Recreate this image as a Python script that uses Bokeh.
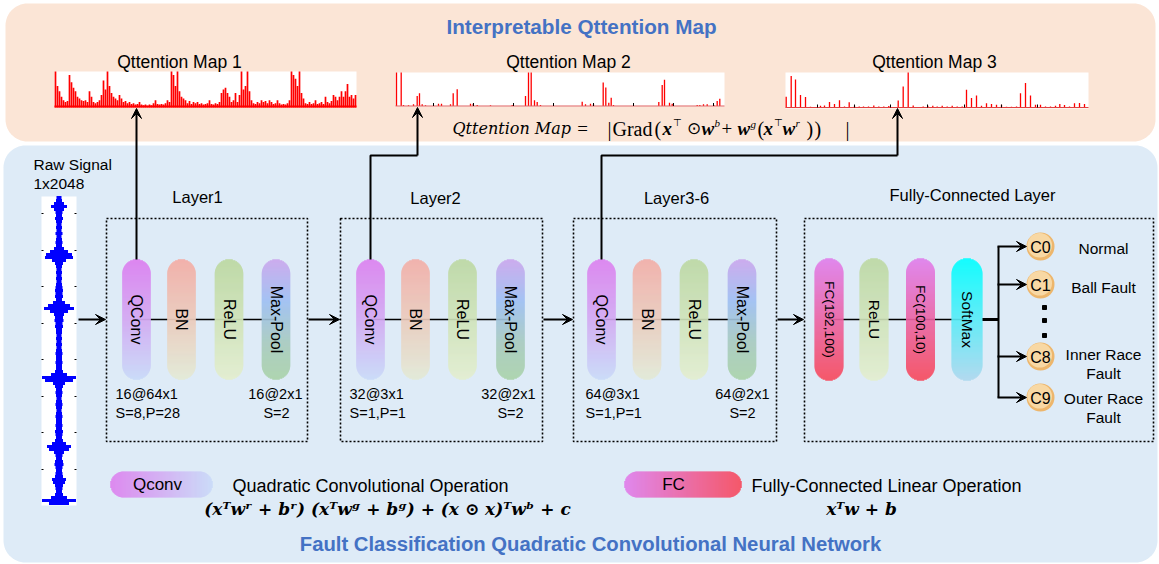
import numpy as np
from bokeh.plotting import figure
from bokeh.models import Range1d, Arrow, VeeHead
from bokeh.core.properties import value
from bokeh.embed import file_html
from bokeh.resources import INLINE

# ---------------- data ----------------
map1_values = [1.0, 0.6, 0.45, 0.3, 0.2, 0.15, 0.18, 0.9, 0.7, 0.55,
               0.45, 0.3, 0.25, 0.2, 0.18, 0.2, 0.15, 0.45, 0.3, 0.15,
               0.12, 0.15, 0.2, 0.35, 0.75, 0.5, 1.0, 0.6, 0.4, 0.3,
               0.25, 0.2, 0.35, 0.25, 0.15, 0.18, 0.12, 0.15, 0.1, 0.12,
               0.08, 0.1, 0.15, 0.08, 0.06, 0.08, 0.05, 0.08, 0.06, 0.12,
               0.2, 0.1, 0.08, 0.1, 0.08, 0.12, 0.2, 0.15, 1.0, 0.9,
               0.6, 1.0, 0.45, 0.3, 0.25, 0.2, 0.12, 0.18, 0.1, 0.15,
               0.12, 0.15, 0.1, 0.12, 0.08, 0.1, 0.12, 0.2, 0.1, 0.08,
               0.12, 0.1, 0.15, 0.4, 0.5, 0.55, 0.4, 0.3, 0.15, 0.2,
               0.4, 0.15, 0.35, 1.0, 0.5, 0.6, 1.0, 0.45, 0.2, 0.12,
               0.1, 0.15, 0.12, 0.2, 0.15, 0.18, 0.12, 0.2, 0.15, 0.1,
               0.12, 0.2, 0.12, 0.08, 0.1, 0.08, 0.12, 0.2, 1.0, 0.9,
               0.8, 0.6, 1.0, 0.4, 0.25, 0.12, 0.1, 0.15, 0.1, 0.12,
               0.2, 0.1, 0.12, 0.15, 0.1, 0.3, 0.15, 0.12, 0.18, 0.35,
               0.3, 0.2, 0.3, 0.45, 0.3, 0.45, 0.65, 0.3, 0.35, 0.25,
               0.35]

map2_pos = [1, 5.7, 8, 13, 18, 21.7, 24, 26.7, 30, 43, 46, 55, 57.7, 61.7,
            75, 77.7, 81.7, 95, 116.7, 130, 133, 135.7, 139, 141.7, 145,
            186.7, 190, 195, 198, 207.7, 210.3, 213.3, 215.7, 218,
            263.3, 266.7, 269, 274, 276.7, 301.7, 304.3, 308, 311.7, 318.3,
            321.7, 324.3]
map2_values = [1.0, 1.0, 0.03, 0.02, 0.05, 0.3, 0.38, 0.05, 0.02, 0.07, 0.07, 0.05, 0.38, 0.5,
               0.07, 0.07, 0.03, 0.02, 0.03, 0.3, 1.0, 1.0, 0.17, 0.12, 0.03,
               0.13, 0.05, 0.07, 0.05, 0.7, 0.55, 0.1, 0.25, 0.03,
               0.12, 0.63, 0.78, 0.1, 0.07, 0.03, 0.03, 0.05, 0.05, 0.03,
               0.15, 0.22]

map3_pos = [0.7, 5.7, 10, 15, 20, 25, 35, 39, 44, 49, 54, 59, 63.7, 69, 73.7, 78, 83,
            88.3, 93.3, 98.3, 103.3, 112.7, 117.7, 122.7, 127.7, 137.7, 142.3, 147.3,
            151.7, 156.7, 161.7, 166.7, 171.7, 176.7, 181, 186, 191, 196, 201, 206,
            211, 216, 221, 226, 231, 235, 240, 245, 250, 255, 260, 265, 270, 274.3,
            279, 284, 289, 294, 299]
map3_values = [0.31, 0.9, 0.8, 0.36, 0.3, 0.02, 0.05, 0.06, 0.16, 0.1, 0.21, 0.03, 0.15, 0.05, 0.03, 0.03, 0.03,
               0.06, 0.03, 0.03, 0.04, 0.2, 0.6, 1.0, 0.06, 0.03, 0.05, 0.05,
               0.03, 0.05, 0.03, 0.05, 0.03, 0.03, 0.51, 0.27, 0.34, 0.05, 0.12, 0.1,
               0.08, 0.08, 0.02, 0.02, 0.03, 0.41, 0.7, 0.34, 0.08, 0.08, 0.03, 0.03, 0.05, 0.1,
               0.07, 0.03, 0.12, 0.13, 0.1]

raw_envelope = [2.5, 3, 5, 8, 5, 3.5, 3, 4, 3, 2.5,
                3, 2.5, 3.5, 2.5, 3, 3.5, 3, 5, 9, 13,
                14, 7, 4, 3, 2.5, 3, 2.5, 3, 2.5, 3,
                3.5, 4, 3.5, 4, 3, 6, 11, 15, 9, 5,
                4, 4.5, 3.5, 4, 3, 3, 2.5, 3, 2.5, 3,
                2.5, 3, 3.5, 3, 3, 3.5, 3, 3, 4, 8,
                17, 14, 6, 4, 3, 3.5, 3, 2.5, 3, 3.5,
                3, 2.5, 3, 3.5, 3, 3, 3.5, 3, 4, 3.5,
                3, 4, 7, 12, 10, 5, 3.5, 3, 4, 4.5,
                3.5, 3, 3.5, 4, 7, 6, 4, 3.5, 3, 4,
                8, 17, 10]

map_titles = ["Qttention Map 1", "Qttention Map 2", "Qttention Map 3"]
layer_titles = ["Layer1", "Layer2", "Layer3-6", "Fully-Connected Layer"]
conv_blocks = ["QConv", "BN", "ReLU", "Max-Pool"]
fc_blocks = ["FC(192,100)", "ReLU", "FC(100,10)", "SoftMax"]
conv_kernel = ["16@64x1", "32@3x1", "64@3x1"]
conv_stride = ["S=8,P=28", "S=1,P=1", "S=1,P=1"]
pool_kernel = ["16@2x1", "32@2x1", "64@2x1"]
pool_stride = ["S=2", "S=2", "S=2"]
class_ids = ["C0", "C1", "C8", "C9"]
class_names = [["Normal"], ["Ball Fault"], ["Inner Race", "Fault"], ["Outer Race", "Fault"]]

SANS = "Liberation Sans"
SERIF = "Liberation Serif"
DSERIF = "DejaVu Serif"
BLUE_T = "#4472C4"

W, H = 1159, 564

# ---------------- figure ----------------
p = figure(width=W, height=H, x_range=Range1d(0, W), y_range=Range1d(H, 0),
           output_backend="svg", toolbar_location=None, min_border=0,
           x_axis_type=None, y_axis_type=None)
p.grid.visible = False
p.outline_line_color = None
p.background_fill_color = "white"
p.border_fill_color = "white"


def lin_range(d0, s0, d1, s1, f_start, f_end):
    k = (d1 - d0) / (s1 - s0)
    return Range1d(start=d0 + (f_start - s0) * k, end=d0 + (f_end - s0) * k)


def xr(d0, s0, d1, s1):
    return lin_range(d0, s0, d1, s1, 0, W)


def yr(d0, s0, d1, s1):
    return lin_range(d0, s0, d1, s1, H, 0)


def rrect(x0, y0, x1, y1, r, n=16):
    xs, ys = [], []
    corners = [(x0 + r, y0 + r, np.pi, 1.5 * np.pi), (x1 - r, y0 + r, 1.5 * np.pi, 2 * np.pi),
               (x1 - r, y1 - r, 0, 0.5 * np.pi), (x0 + r, y1 - r, 0.5 * np.pi, np.pi)]
    for cx, cy, a0, a1 in corners:
        t = np.linspace(a0, a1, n)
        xs.extend(cx + r * np.cos(t))
        ys.extend(cy + r * np.sin(t))
    return xs, ys


def hex2rgb(h):
    h = h.lstrip("#")
    return [int(h[i:i + 2], 16) for i in (0, 2, 4)]


def interp_color(stops, t):
    t = min(max(t, 0.0), 1.0)
    for (p0, c0), (p1, c1) in zip(stops[:-1], stops[1:]):
        if t <= p1:
            f = 0 if p1 == p0 else (t - p0) / (p1 - p0)
            a, b = hex2rgb(c0), hex2rgb(c1)
            return "#%02x%02x%02x" % tuple(int(round(a[i] + (b[i] - a[i]) * f)) for i in range(3))
    return stops[-1][1]


def vpill(cx, y0, y1, w, stops):
    r = w / 2.0
    n = int(round(y1 - y0))
    ys = y0 + np.arange(n) + 0.5
    hw = []
    for y in ys:
        if y < y0 + r:
            d = (y0 + r) - y
        elif y > y1 - r:
            d = y - (y1 - r)
        else:
            d = 0
        hw.append(np.sqrt(max(r * r - d * d, 0.0)))
    hw = np.array(hw)
    cols = [interp_color(stops, (y - y0) / (y1 - y0)) for y in ys]
    p.quad(left=cx - hw, right=cx + hw, top=ys - 0.7, bottom=ys + 0.7, fill_color=cols, line_color=None)


def hpill(x0, x1, cy, h, stops):
    r = h / 2.0
    n = int(round(x1 - x0))
    xs = x0 + np.arange(n) + 0.5
    hh = []
    for x in xs:
        if x < x0 + r:
            d = (x0 + r) - x
        elif x > x1 - r:
            d = x - (x1 - r)
        else:
            d = 0
        hh.append(np.sqrt(max(r * r - d * d, 0.0)))
    hh = np.array(hh)
    cols = [interp_color(stops, (x - x0) / (x1 - x0)) for x in xs]
    p.quad(left=xs - 0.7, right=xs + 0.7, top=cy - hh, bottom=cy + hh, fill_color=cols, line_color=None)


def txt(x, y, s, size, align="center", style="normal", color="black", font=SANS, angle=0.0):
    p.text(x=[x], y=[y], text=[s], text_font=value(font), text_font_size=f"{size}px",
           text_align=align, text_baseline="middle", text_font_style=style,
           text_color=color, angle=angle)


def arrow(x0, y0, x1, y1, lw=2):
    p.add_layout(Arrow(end=VeeHead(size=10, line_color="black", fill_color="black", line_width=1),
                       x_start=x0, y_start=y0, x_end=x1, y_end=y1,
                       line_width=lw, line_color="black"))


# ---------------- panels ----------------
xs, ys = rrect(5, 3, 1155, 141, 22)
p.patch(xs, ys, fill_color="#FBE5D6", line_color=None)
xs, ys = rrect(3, 145, 1157, 562, 22)
p.patch(xs, ys, fill_color="#DEEBF7", line_color=None)

txt(581, 26, "Interpretable Qttention Map", 20.7, style="bold", color=BLUE_T)
txt(590, 543, "Fault Classification Quadratic Convolutional Neural Network", 20.3, style="bold", color=BLUE_T)

# ---------------- attention maps ----------------
boxes = [(54, 356, 71, 107), (395, 724, 72, 106), (785, 1088, 72, 108)]
title_x = [179, 568, 934]
for (bx0, bx1, by0, by1), tx, t in zip(boxes, title_x, map_titles):
    p.quad(left=bx0, right=bx1, top=by0, bottom=by1, fill_color="white", line_color=None)
    txt(tx, 61, t, 17.5)

# map 1 (dense)
n1 = len(map1_values)
p.extra_x_ranges["m1x"] = xr(0, 55, n1 - 1, 355)
p.extra_y_ranges["m1y"] = yr(0, 107, 1, 71)
p.vbar(x=list(range(n1)), top=map1_values, bottom=0, width=0.85, fill_color="#FF0000",
       line_color=None, x_range_name="m1x", y_range_name="m1y")
p.segment(x0=[54], y0=[106], x1=[356], y1=[106], line_color="#FF0000", line_width=2)

# map 2
p.extra_x_ranges["m2x"] = xr(0, 395, 329, 724)
p.extra_y_ranges["m2y"] = yr(0, 105.5, 1, 72)
p.vbar(x=map2_pos, top=map2_values, bottom=0, width=1.3, fill_color="#FF0000",
       line_color=None, x_range_name="m2x", y_range_name="m2y")
p.segment(x0=[395], y0=[105.5], x1=[724], y1=[105.5], line_color="#E06060", line_width=1.2)
t2 = [433 + 40 * k for k in range(8)]
p.segment(x0=t2, y0=[105.5] * 8, x1=t2, y1=[102.5] * 8, line_color="black", line_width=1)

# map 3
p.extra_x_ranges["m3x"] = xr(0, 785, 303, 1088)
p.extra_y_ranges["m3y"] = yr(0, 107, 1, 72)
p.vbar(x=map3_pos, top=map3_values, bottom=0, width=1.3, fill_color="#FF0000",
       line_color=None, x_range_name="m3x", y_range_name="m3y")
p.segment(x0=[785], y0=[107], x1=[1088], y1=[107], line_color="#E04040", line_width=1.2)
t3 = [817, 854, 890, 927, 964, 1001, 1037]
p.segment(x0=t3, y0=[107] * 7, x1=t3, y1=[104] * 7, line_color="black", line_width=1)

# formula (pieces: x, text, style, size, vertical offset)
FY = 128
txt(452, FY, "Qttention Map", 16, align="left", style="italic", font=DSERIF)
txt(582, FY, "=", 19, font=SERIF)
formula_bits = [(607, "|", "normal", 20, 0), (612, "Grad", "normal", 20, 0), (654, "(", "normal", 20, 0),
                (662, "x", "bold italic", 19, 0), (672.5, "⊤", "normal", 10, -6),
                (686, "⊙", "normal", 17, 0),
                (701, "w", "bold italic", 19, 0), (714, "b", "italic", 11, -6),
                (721, "+", "normal", 19, 0),
                (737, "w", "bold italic", 19, 0), (750, "g", "italic", 11, -5),
                (757, "(", "normal", 20, 0),
                (763, "x", "bold italic", 19, 0), (773.5, "⊤", "normal", 10, -6),
                (782, "w", "bold italic", 19, 0), (795, "r", "italic", 11, -6),
                (806, ")", "normal", 20, 0), (814, ")", "normal", 20, 0),
                (845, "|", "normal", 20, 0)]
for bx, bt, bs, bsz, bdy in formula_bits:
    txt(bx, FY + bdy, bt, bsz, align="left", style=bs, font=SERIF)

# ---------------- raw signal ----------------
p.quad(left=41, right=76, top=196, bottom=505, fill_color="white", line_color=None)
nr = len(raw_envelope)
p.extra_x_ranges["rsx"] = xr(0, 58.5, 1, 59.5)
p.extra_y_ranges["rsy"] = yr(0, 197, nr - 1, 503)
env = np.array(raw_envelope, dtype=float)
p.hbar(y=list(range(nr)), left=-env, right=env, height=1.0, fill_color="#0000FF",
       line_color=None, x_range_name="rsx", y_range_name="rsy")
p.segment(x0=[0], y0=[0], x1=[0], y1=[nr - 1], line_color="#0000FF", line_width=3,
          x_range_name="rsx", y_range_name="rsy")
rt = [213, 250, 286, 323, 359, 396, 432, 469]
p.segment(x0=[41] * 8, y0=rt, x1=[43] * 8, y1=rt, line_color="black", line_width=1)
p.segment(x0=[74] * 8, y0=rt, x1=[76] * 8, y1=rt, line_color="black", line_width=1)
txt(33, 164, "Raw Signal", 15.5, align="left")
txt(33, 183, "1x2048", 15.5, align="left")

# ---------------- layers ----------------
box_x = [(106, 307), (340, 542), (573, 776), (804, 1153)]
title_pos = [(197, 196), (435, 197), (676, 197), (972, 194)]
for (x0, x1), (tx, ty), t in zip(box_x, title_pos, layer_titles):
    p.quad(left=x0, right=x1, top=218, bottom=441, fill_color=None, line_color="black",
           line_width=1.6, line_dash="2 2")
    txt(tx, ty, t, 16.5)

stops = {
    "QConv": [(0, "#DC7FEF"), (0.5, "#D3A9F2"), (1, "#C9DAF8")],
    "BN": [(0, "#F3ADA6"), (0.5, "#EBCBBC"), (1, "#E3EAD6")],
    "ReLU": [(0, "#BCD8A2"), (1, "#E3EECF")],
    "Max-Pool": [(0, "#CBA6EC"), (0.35, "#9EBFF2"), (0.7, "#A8CBBE"), (1, "#A9D2A9")],
    "FC(192,100)": [(0, "#E07EEC"), (1, "#F74A5C")],
    "FC(100,10)": [(0, "#E07EEC"), (1, "#F74A5C")],
    "SoftMax": [(0, "#00FFFF"), (1, "#AED8EE")],
}

conv_cx = [[136, 181, 228.5, 275.5], [370, 415, 462, 510], [601, 646.5, 693.5, 741.5]]
left_txt = [115, 349, 585]
right_txt = [302, 535, 769]
s2_txt = [276, 510, 742]
for li in range(3):
    cxs = conv_cx[li]
    p.segment(x0=[cxs[0]], y0=[319], x1=[cxs[-1]], y1=[319], line_color="black", line_width=1.5)
    for cx, name in zip(cxs, conv_blocks):
        vpill(cx, 259, 379, 28.5, stops[name])
        txt(cx, 319, name, 16, angle=-np.pi / 2)
    txt(left_txt[li], 393, conv_kernel[li], 14.5, align="left")
    txt(left_txt[li], 412, conv_stride[li], 14.5, align="left")
    txt(right_txt[li], 393, pool_kernel[li], 14.5, align="right")
    txt(s2_txt[li], 412, pool_stride[li], 14.5)

fc_cx = [828.5, 873.5, 920, 966.5]
fc_w = [29, 29, 29, 31]
fc_size = [13.7, 15.5, 13.7, 15.5]
p.segment(x0=[fc_cx[0]], y0=[319], x1=[fc_cx[-1]], y1=[319], line_color="black", line_width=1.5)
for cx, w, fs, name in zip(fc_cx, fc_w, fc_size, fc_blocks):
    st = stops.get(name, stops["ReLU"])
    vpill(cx, 258, 380, w, st)
    txt(cx, 319, name, fs, angle=-np.pi / 2)

# horizontal flow arrows
arrow(78, 319, 105, 319)
arrow(308, 319, 339, 319)
arrow(543, 319, 572, 319)
arrow(777, 319, 803, 319)

# arrows up to the attention maps
arrow(136, 259, 136, 108)
p.line(x=[370, 370, 417], y=[259, 155, 155], line_color="black", line_width=2)
arrow(417, 155, 417, 107)
p.line(x=[601, 601, 897], y=[259, 155, 155], line_color="black", line_width=2)
arrow(897, 155, 897, 108)

# classifier branch
class_y = [246, 284, 356, 397]
p.segment(x0=[982], y0=[319], x1=[998], y1=[319], line_color="black", line_width=3)
p.segment(x0=[998], y0=[class_y[0]], x1=[998], y1=[class_y[-1]], line_color="black", line_width=2)
for cy in class_y:
    arrow(997, cy, 1026, cy)
p.circle(x=[1040] * 4, y=class_y, radius=14, fill_color="#EDB66C", line_color=None)
p.circle(x=[1039.2] * 4, y=[c - 1.2 for c in class_y], radius=12.3, fill_color="#F8D8A4", line_color=None)
for cy, cid in zip(class_y, class_ids):
    txt(1040, cy + 1, cid, 16)
p.scatter(x=[1044] * 3, y=[307, 320, 335], marker="square", size=4, color="black")
name_y = [[248], [287], [354, 373], [398, 417]]
for names, yy in zip(class_names, name_y):
    for nm, y in zip(names, yy):
        txt(1103, y, nm, 15.5)

# ---------------- legend ----------------
hpill(110, 212, 484, 26, [(0, "#DD80EE"), (1, "#C9DAF8")])
txt(157, 484, "Qconv", 17)
txt(370, 485, "Quadratic Convolutional Operation", 18)
txt(387, 508, "(xᵀwʳ + bʳ) (xᵀwᵍ + bᵍ) + (x ⊙ x)ᵀwᵇ + c", 17, style="bold italic", font=DSERIF)
hpill(624, 741, 484, 26, [(0, "#E07EEC"), (1, "#F74A5C")])
txt(673, 484, "FC", 17)
txt(886, 485, "Fully-Connected Linear Operation", 18)
txt(861, 508, "xᵀw + b", 17, style="bold italic", font=DSERIF)

open("out.html", "w").write(file_html(p, INLINE))
